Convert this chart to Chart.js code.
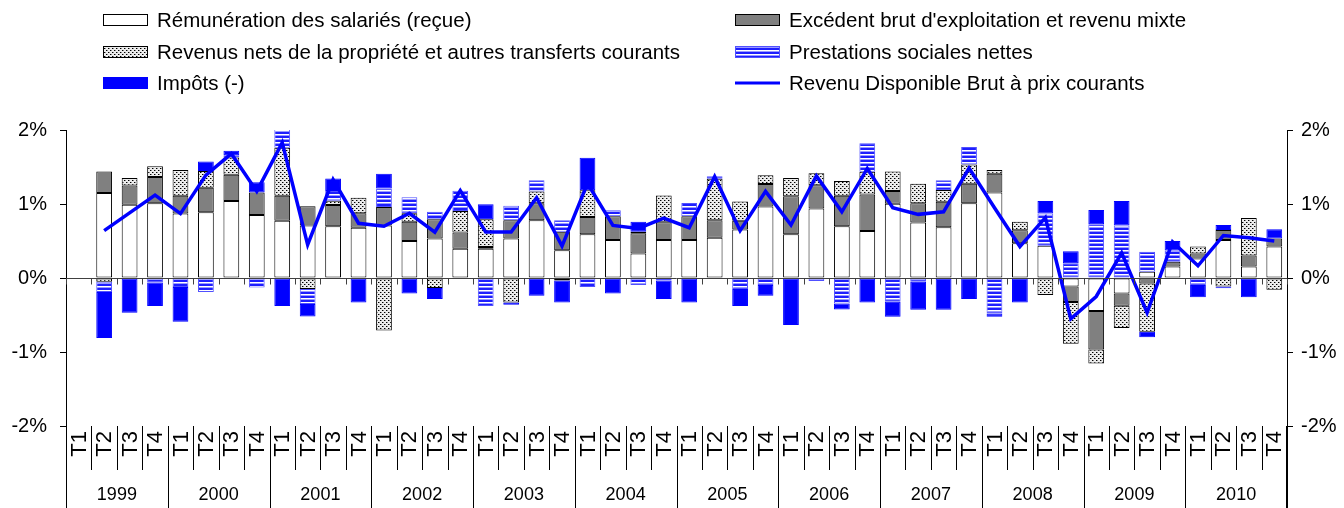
<!DOCTYPE html>
<html>
<head>
<meta charset="utf-8">
<script src="https://cdn.jsdelivr.net/npm/chart.js@4.4.0/dist/chart.umd.min.js"></script>
<style>
  html, body { margin: 0; padding: 0; background: #fff; }
  #cadre { width: 1344px; height: 508px; }
</style>
</head>
<body>
<div id="cadre"><canvas id="graphique" width="1344" height="508"></canvas></div>
<script>
// ── DONNÉES (contributions à la croissance trimestrielle, en points de %) ──
const annees = ['1999', '2000', '2001', '2002', '2003', '2004', '2005', '2006', '2007', '2008', '2009', '2010'];
const trimestres = ['T1', 'T2', 'T3', 'T4'];

const remuneration = [null, 1.15, 0.99, 1.01, 0.87, 0.89, 1.04, 0.85, 0.775, 0.71, 0.70, 0.68,
  0.71, 0.50, 0.535, 0.395, 0.395, 0.535, 0.78, 0.375, 0.59, 0.515, 0.33, 0.515,
  0.515, 0.545, 0.655, 0.965, 0.59, 0.94, 0.70, 0.635, 1.005, 0.75, 0.685, 1.01,
  1.155, 0.47, 0.435, -0.115, -0.445, -0.21, 0.085, 0.155, 0.265, 0.515, 0.155, 0.425];
const excedentBrut = [null, 0.29, 0.26, 0.355, 0.24, 0.33, 0.355, 0.305, 0.335, 0.26, 0.285, 0.195,
  0.25, 0.26, 0.26, 0.22, 0.025, 0.245, 0.23, 0.25, 0.235, 0.32, 0.275, 0.24,
  0.32, 0.235, 0.12, 0.305, 0.515, 0.315, 0.41, 0.495, 0.17, 0.26, 0.345, 0.265,
  0.255, 0.175, 0, -0.21, -0.52, -0.165, -0.075, 0.065, 0.065, 0.135, 0.15, 0.11];
const revenusPropriete = [null, -0.05, 0.10, 0.145, 0.35, 0.225, 0.235, 0, 0.65, -0.15, 0.06, 0.21,
  -0.71, 0.115, -0.135, 0.29, 0.375, -0.33, 0.16, -0.035, 0.36, 0, 0.02, 0.36,
  0, 0.56, 0.26, 0.12, 0.245, 0.16, 0.20, 0.305, 0.265, 0.265, 0.16, 0.26,
  0.05, 0.115, -0.23, -0.565, -0.19, -0.30, -0.65, 0, 0.095, -0.115, 0.505, -0.16];
const prestations = [null, -0.14, 0, -0.06, -0.12, -0.19, 0.03, -0.13, 0.43, -0.20, 0.13, 0,
  0.25, 0.215, 0.10, 0.275, -0.38, 0.195, 0.15, 0.155, -0.12, 0.08, -0.095, -0.035,
  0.18, 0.035, -0.15, -0.095, 0, -0.04, -0.345, 0.385, -0.32, -0.05, 0.13, 0.235,
  -0.48, 0, 0.435, 0.20, 0.725, 0.71, 0.27, 0.15, -0.095, -0.025, 0, 0];
const impots = [null, -0.62, -0.47, -0.32, -0.47, 0.13, 0.06, 0.14, -0.38, -0.17, 0.17, -0.33,
  0.20, -0.21, -0.15, 0, 0.20, -0.03, -0.24, -0.295, 0.44, -0.21, 0.135, -0.25,
  -0.33, 0, -0.23, -0.145, -0.635, 0, -0.08, -0.33, -0.205, -0.38, -0.43, -0.285,
  -0.045, -0.33, 0.17, 0.16, 0.195, 0.33, -0.075, 0.13, -0.165, 0.065, -0.26, 0.125];
const revenuDisponible = [null, 0.64, 0.88, 1.12, 0.87, 1.39, 1.68, 1.17, 1.83, 0.45, 1.33, 0.74,
  0.70, 0.875, 0.62, 1.18, 0.62, 0.62, 1.085, 0.43, 1.28, 0.71, 0.67, 0.81,
  0.68, 1.37, 0.64, 1.17, 0.715, 1.38, 0.895, 1.48, 0.95, 0.86, 0.895, 1.485,
  0.95, 0.425, 0.815, -0.55, -0.25, 0.34, -0.47, 0.49, 0.165, 0.575, 0.545, 0.50];

const graduations = [-2, -1, 0, 1, 2];

// ── CONSTRUCTION ──
const etiquettes = [];
annees.forEach(a => trimestres.forEach(t => etiquettes.push(a + ' ' + t)));

const police = '"Liberation Sans", Arial, sans-serif';
const canvas = document.getElementById('graphique');
const ctx = canvas.getContext('2d');

function motifPoints() {
  const c = document.createElement('canvas');
  c.width = 4; c.height = 4;
  const g = c.getContext('2d');
  g.fillStyle = '#ececec'; g.fillRect(0, 0, 4, 4);
  g.fillStyle = '#000'; g.fillRect(0, 0, 1, 1); g.fillRect(2, 2, 1, 1);
  g.fillStyle = '#8a8a8a'; g.fillRect(1, 0, 1, 1); g.fillRect(3, 2, 1, 1);
  return ctx.createPattern(c, 'repeat');
}

function motifRayures() {
  const c = document.createElement('canvas');
  c.width = 4; c.height = 4;
  const g = c.getContext('2d');
  g.fillStyle = '#1e1eff'; g.fillRect(0, 0, 4, 2);
  g.fillStyle = '#ffffff'; g.fillRect(0, 2, 4, 1);
  g.fillStyle = '#9a9aff'; g.fillRect(0, 3, 4, 1);
  return ctx.createPattern(c, 'repeat');
}

const sansZero = arr => arr.map(v => (v === 0 ? null : v));

const barre = (label, data, fond, bord) => ({
  type: 'bar', label, data: sansZero(data), backgroundColor: fond, borderColor: bord,
  borderWidth: 1, borderSkipped: false, order: 1, yAxisID: 'y'
});

const series = [
  barre('Rémunération des salariés (reçue)', remuneration, '#ffffff', '#000000'),
  barre("Excédent brut d'exploitation et revenu mixte", excedentBrut, '#808080', '#000000'),
  barre('Revenus nets de la propriété et autres transferts courants', revenusPropriete, motifPoints(), '#000000'),
  barre('Prestations sociales nettes', prestations, motifRayures(), '#5050ff'),
  barre('Impôts (-)', impots, '#0000ff', '#0000ff'),
  {
    type: 'line', label: 'Revenu Disponible Brut à prix courants', data: revenuDisponible,
    borderColor: '#0000ff', borderWidth: 3.5, pointRadius: 0, tension: 0, order: 0, yAxisID: 'y'
  }
];

// ── LÉGENDE (2 colonnes, dessinée sur le canvas) ──
const legende = {
  id: 'legende',
  afterDraw(chart) {
    const c = chart.ctx;
    const pos = [[103, 20], [735, 20], [103, 52], [735, 52], [103, 83], [735, 83]];
    c.save();
    c.font = '20.5px ' + police;
    c.textBaseline = 'middle';
    chart.data.datasets.forEach((ds, k) => {
      const [x, y] = pos[k];
      if (ds.type === 'line') {
        c.strokeStyle = ds.borderColor; c.lineWidth = 3;
        c.beginPath(); c.moveTo(x, y); c.lineTo(x + 45, y); c.stroke();
      } else {
        c.fillStyle = ds.backgroundColor;
        c.fillRect(x, y - 6, 45, 12);
        c.strokeStyle = ds.borderColor; c.lineWidth = 1;
        c.strokeRect(x + 0.5, y - 5.5, 44, 11);
      }
      c.fillStyle = '#000';
      c.fillText(ds.label, x + 54, y + 1);
    });
    c.restore();
  }
};

// ── AXE DES CATÉGORIES (zéro, trimestres, années) ──
const axeCategories = {
  id: 'axeCategories',
  afterDatasetsDraw(chart) {
    const { ctx: c, chartArea: a, scales } = chart;
    const y0 = Math.round(scales.y.getPixelForValue(0)) + 0.5;
    const pas = (a.right - a.left) / etiquettes.length;
    c.save();
    c.strokeStyle = '#404040'; c.lineWidth = 1;
    c.beginPath();
    c.moveTo(a.left, y0); c.lineTo(a.right, y0);
    for (let i = 0; i <= etiquettes.length; i++) {
      const bx = Math.round(scales.x.getPixelForValue(i) - pas / 2) + 0.5;
      c.moveTo(bx, y0); c.lineTo(bx, y0 + 6);
    }
    c.stroke();
    c.restore();
  },
  afterDraw(chart) {
    const { ctx: c, chartArea: a, scales } = chart;
    const pas = (a.right - a.left) / etiquettes.length;
    c.save();
    c.strokeStyle = '#000'; c.lineWidth = 1;
    c.beginPath();
    // prolongement des axes verticaux
    c.moveTo(Math.round(a.left) + 0.5, a.bottom); c.lineTo(Math.round(a.left) + 0.5, 508);
    c.moveTo(Math.round(a.right) - 0.5, a.bottom); c.lineTo(Math.round(a.right) - 0.5, 508);
    for (let i = 0; i <= etiquettes.length; i++) {
      const bx = Math.round(scales.x.getPixelForValue(i) - pas / 2) + 0.5;
      c.moveTo(bx, a.bottom); c.lineTo(bx, i % 4 === 0 ? 508 : 470);
    }
    c.stroke();

    c.fillStyle = '#000';
    c.font = '22px ' + police;
    c.textAlign = 'right';
    c.textBaseline = 'middle';
    etiquettes.forEach((lab, i) => {
      const cx = scales.x.getPixelForValue(i);
      c.save();
      c.translate(cx + 1, a.bottom + 5);
      c.rotate(-Math.PI / 2);
      c.fillText(trimestres[i % 4], 0, 0);
      c.restore();
    });

    c.font = '18px ' + police;
    c.textAlign = 'center';
    annees.forEach((an, k) => {
      const cx = (scales.x.getPixelForValue(k * 4) + scales.x.getPixelForValue(k * 4 + 3)) / 2;
      c.fillText(an, cx, 495);
    });
    c.restore();
  }
};

const axeY = (position, largeur, ecart) => ({
  type: 'linear', position, min: -2, max: 2, stacked: true,
  afterFit(scale) { scale.width = largeur; },
  afterBuildTicks(scale) { scale.ticks = graduations.map(v => ({ value: v })); },
  border: { display: true, color: '#000', width: 1 },
  grid: { drawOnChartArea: false, drawTicks: true, tickLength: 6, color: '#000' },
  ticks: {
    padding: ecart, color: '#000', font: { family: police, size: 20 },
    callback: v => v + '%'
  }
});

new Chart(ctx, {
  data: { labels: etiquettes, datasets: series },
  options: {
    responsive: false,
    animation: false,
    devicePixelRatio: 1,
    layout: { padding: { top: 130, bottom: 82, left: 0, right: 0 } },
    plugins: { legend: { display: false }, tooltip: { enabled: false } },
    datasets: { bar: { barPercentage: 0.62, categoryPercentage: 1 } },
    scales: {
      x: { display: false, stacked: true, offset: true },
      y: axeY('left', 66, 13),
      y2: axeY('right', 57, 8)
    }
  },
  plugins: [axeCategories, legende]
});
</script>
</body>
</html>
